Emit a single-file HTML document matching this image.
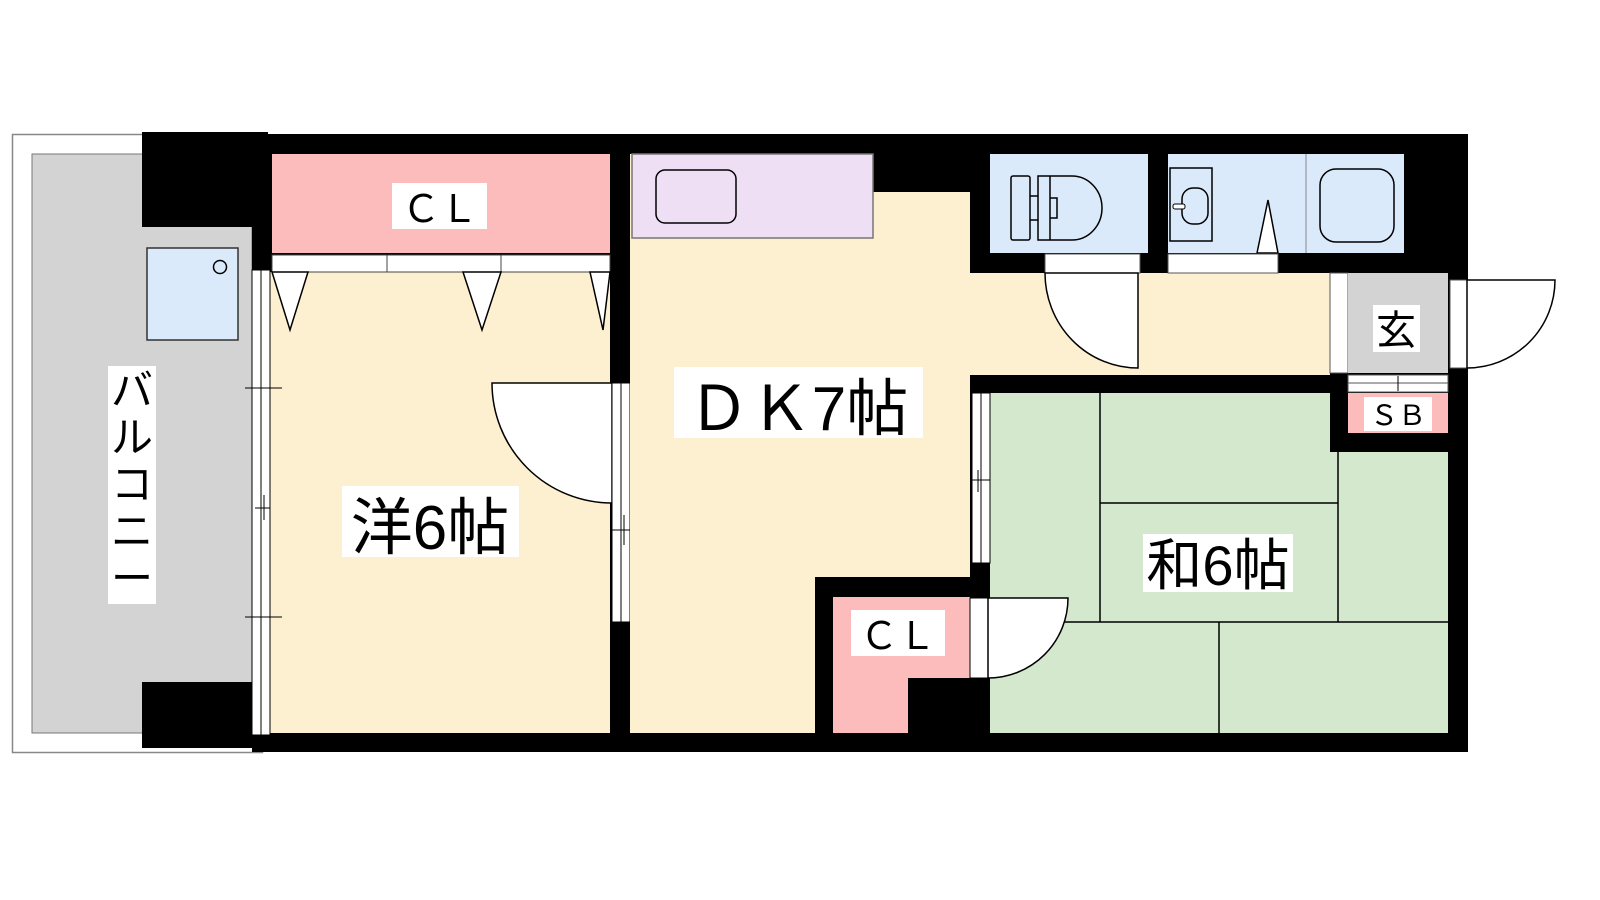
<!DOCTYPE html>
<html><head><meta charset="utf-8"><style>
html,body{margin:0;padding:0;background:#fff;width:1600px;height:900px;overflow:hidden}
svg{display:block}
text{font-family:"Liberation Sans","Noto Sans CJK JP",sans-serif;fill:#000}
</style></head><body>
<svg width="1600" height="900" viewBox="0 0 1600 900" xmlns="http://www.w3.org/2000/svg">
<!-- balcony -->
<rect x="12.5" y="134.5" width="250" height="618" fill="#fff" stroke="#888" stroke-width="1.5"/>
<rect x="32" y="154" width="220" height="579" fill="#d3d3d3" stroke="#777" stroke-width="1"/>
<rect x="142" y="132" width="126" height="95" fill="#000"/>
<rect x="142" y="682" width="110" height="66" fill="#000"/>
<rect x="147" y="248" width="91" height="92" fill="#dbeafb" stroke="#333" stroke-width="1.5"/>
<circle cx="220" cy="267" r="6.5" fill="none" stroke="#000" stroke-width="1.5"/>
<rect x="108" y="366" width="48" height="238" fill="#fff"/>
<text font-size="42" text-anchor="middle" x="132" y="0">
<tspan x="132" y="405">バ</tspan><tspan x="132" y="452">ル</tspan><tspan x="132" y="499">コ</tspan><tspan x="132" y="546">ニ</tspan><tspan x="132" y="593">ー</tspan></text>

<!-- outer walls -->
<rect x="252" y="134" width="1216" height="618" fill="#000"/>

<!-- 洋室 -->
<rect x="270" y="272" width="340" height="461" fill="#fdf0d0"/>
<rect x="252" y="270" width="18" height="465" fill="#fff" stroke="#000" stroke-width="1"/>
<line x1="261" y1="270" x2="261" y2="735" stroke="#000" stroke-width="1"/>
<line x1="245" y1="388" x2="282" y2="388" stroke="#000" stroke-width="1"/>
<line x1="245" y1="617" x2="282" y2="617" stroke="#000" stroke-width="1"/>
<line x1="255" y1="508" x2="270" y2="508" stroke="#000" stroke-width="1"/>
<line x1="264" y1="495" x2="264" y2="520" stroke="#000" stroke-width="1"/>
<rect x="272" y="154" width="338" height="99" fill="#fcbcbc"/>
<rect x="272" y="255" width="338" height="17" fill="#fff" stroke="#444" stroke-width="1"/>
<line x1="387" y1="255" x2="387" y2="272" stroke="#444"/>
<line x1="501" y1="255" x2="501" y2="272" stroke="#444"/>
<polygon points="272,272 308,272 290,330" fill="#fff" stroke="#000" stroke-width="1.5"/>
<polygon points="463,272 501,272 482,330" fill="#fff" stroke="#000" stroke-width="1.5"/>
<polygon points="590,272 610,272 603,330" fill="#fff" stroke="#000" stroke-width="1.5"/>
<rect x="392" y="183" width="95" height="46" fill="#fff"/>
<text x="440" y="222" font-size="38" text-anchor="middle">ＣＬ</text>
<path d="M492,383 L612,383 L612,503 A120,120 0 0 1 492,383 Z" fill="#fff" stroke="#000" stroke-width="1.5"/>
<rect x="612" y="383" width="18" height="239" fill="#fff" stroke="#000" stroke-width="1"/>
<line x1="621" y1="383" x2="621" y2="622" stroke="#000"/>
<line x1="612" y1="530" x2="630" y2="530" stroke="#000"/>
<line x1="624" y1="515" x2="624" y2="545" stroke="#000"/>
<rect x="342" y="486" width="177" height="71" fill="#fff"/>
<text x="430" y="549" font-size="62" text-anchor="middle">洋6帖</text>

<!-- DK -->
<rect x="630" y="154" width="340" height="579" fill="#fdf0d0"/>
<rect x="873" y="154" width="97" height="38" fill="#000"/>
<rect x="970" y="273" width="360" height="102" fill="#fdf0d0"/>
<rect x="632" y="154" width="241" height="84" fill="#eedff5" stroke="#777" stroke-width="1.5"/>
<rect x="656" y="170" width="80" height="53" rx="9" fill="none" stroke="#000" stroke-width="1.5"/>
<rect x="674" y="367" width="249" height="71" fill="#fff"/>
<text x="798" y="430" font-size="62" text-anchor="middle">ＤＫ7帖</text>

<!-- toilet / bath -->
<rect x="990" y="154" width="158" height="99" fill="#dbeafb"/>
<rect x="1011" y="176" width="19" height="64" rx="2" fill="none" stroke="#000" stroke-width="1.5"/>
<path d="M1038,176 L1072,176 A30,32 0 0 1 1072,240 L1038,240 Z" fill="none" stroke="#000" stroke-width="1.5"/>
<path d="M1030,196 L1038,196 M1030,220 L1038,220 M1050,176 L1050,240 M1050,198 L1057,198 L1057,218 L1050,218" fill="none" stroke="#000" stroke-width="1.5"/>
<rect x="1168" y="154" width="236" height="99" fill="#dbeafb"/>
<rect x="1170" y="168" width="42" height="73" fill="none" stroke="#000" stroke-width="1.5"/>
<rect x="1182" y="188" width="26" height="36" rx="11" fill="none" stroke="#000" stroke-width="1.5"/>
<rect x="1173" y="204" width="12" height="5" rx="2" fill="#fff" stroke="#000"/>
<line x1="1306" y1="154" x2="1306" y2="253" stroke="#888"/>
<rect x="1320" y="169" width="74" height="73" rx="16" fill="none" stroke="#000" stroke-width="1.5"/>
<polygon points="1257,253 1268,200 1278,253" fill="#fff" stroke="#000" stroke-width="1.5"/>
<rect x="1045" y="254" width="95" height="19" fill="#fff" stroke="#555" stroke-width="1"/>
<rect x="1168" y="254" width="110" height="19" fill="#fff" stroke="#555" stroke-width="1"/>
<path d="M1045,273 L1138,273 L1138,368 A93,95 0 0 1 1045,273 Z" fill="#fff" stroke="#000" stroke-width="1.5"/>

<!-- genkan -->
<rect x="1330" y="273" width="18" height="100" fill="#fff" stroke="#555"/>
<rect x="1348" y="273" width="100" height="100" fill="#d3d3d3"/>
<rect x="1450" y="280" width="17" height="88" fill="#fff" stroke="#555"/>
<path d="M1467,280 L1555,280 A88,88 0 0 1 1467,368 Z" fill="#fff" stroke="#000" stroke-width="1.5"/>
<rect x="1373" y="305" width="47" height="47" fill="#fff"/>
<text x="1396" y="344" font-size="40" text-anchor="middle">玄</text>
<rect x="1348" y="375" width="100" height="17" fill="#fff" stroke="#555"/>
<line x1="1348" y1="383" x2="1448" y2="383" stroke="#555"/>
<line x1="1398" y1="376" x2="1398" y2="391" stroke="#000"/>
<rect x="1348" y="393" width="100" height="40" fill="#fcbcbc"/>
<rect x="1364" y="397" width="68" height="34" fill="#fff"/>
<text x="1398" y="425" font-size="28" text-anchor="middle">ＳＢ</text>

<!-- 和室 -->
<path d="M990,393 L1330,393 L1330,452 L1448,452 L1448,733 L990,733 Z" fill="#d3e8cc"/>
<g stroke="#000" stroke-width="1.5" fill="none">
<line x1="1100" y1="393" x2="1100" y2="622"/>
<line x1="1100" y1="503" x2="1338" y2="503"/>
<line x1="1338" y1="452" x2="1338" y2="622"/>
<line x1="990" y1="622" x2="1448" y2="622"/>
<line x1="1219" y1="622" x2="1219" y2="733"/>
</g>
<rect x="972" y="393" width="18" height="170" fill="#fff" stroke="#000" stroke-width="1"/>
<line x1="981" y1="393" x2="981" y2="563" stroke="#000"/>
<line x1="972" y1="480" x2="990" y2="480" stroke="#000"/>
<line x1="978" y1="470" x2="978" y2="492" stroke="#000"/>
<rect x="1143" y="534" width="150" height="58" fill="#fff"/>
<text x="1218" y="585" font-size="56" text-anchor="middle">和6帖</text>

<!-- CL bottom -->
<rect x="815" y="577" width="175" height="20" fill="#000"/>
<rect x="815" y="577" width="18" height="160" fill="#000"/>
<rect x="833" y="597" width="137" height="136" fill="#fcbcbc"/>
<rect x="908" y="678" width="82" height="55" fill="#000"/>
<rect x="851" y="610" width="94" height="46" fill="#fff"/>
<text x="898" y="649" font-size="38" text-anchor="middle">ＣＬ</text>
<rect x="970" y="598" width="18" height="80" fill="#fff" stroke="#000" stroke-width="1"/>
<path d="M988,598 L1068,598 A80,80 0 0 1 988,678 Z" fill="#fff" stroke="#000" stroke-width="1.5"/>
</svg>
</body></html>
